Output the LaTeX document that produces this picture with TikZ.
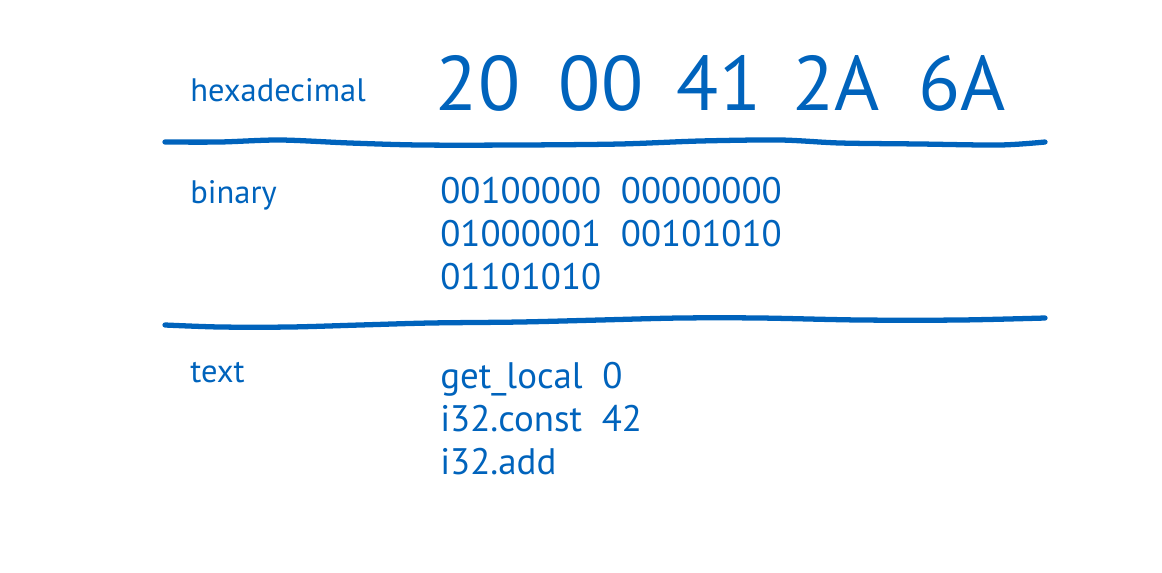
\documentclass[tikz,border=0pt]{standalone}
\usepackage{fontspec}
\setmainfont{PT Sans}
\usepackage{tikz}
\definecolor{inkblue}{RGB}{0,99,188}

\begin{document}
\begin{tikzpicture}[x=0.02cm,y=-0.02cm,
    rowlabel/.style={anchor=base west,inner sep=0pt,text=inkblue,font=\fontsize{18.5}{22}\selectfont},
    hexbyte/.style={anchor=base,inner sep=0pt,text=inkblue,font=\fontsize{44}{50}\selectfont},
    code/.style={anchor=base west,inner sep=0pt,text=inkblue,align=left,font=\fontsize{21}{24.4}\selectfont},
    rule/.style={draw=inkblue,line width=3pt,line cap=round}]
	\useasboundingbox (0,0) rectangle (1162,572);

	\node[rowlabel] (hexlabel) at (190, 101) {hexadecimal};
	\node[hexbyte] (b1) at (478, 110) {20};
	\node[hexbyte] (b2) at (601, 110) {00};
	\node[hexbyte] (b3) at (719, 110) {41};
	\node[hexbyte] (b4) at (836, 110) {2A};
	\node[hexbyte] (b5) at (962, 110) {6A};

	\node[rowlabel] (binlabel) at (190, 203) {binary};
	% base of a multi-line node is the last line
	\node[code] (bits) at (440, 289) {00100000\ \ 00000000\\01000001\ \ 00101010\\01101010};

	\node[rowlabel] (textlabel) at (190, 382) {text};
	\node[code] (wat) at (440, 474) {get\_local\ \ 0\\i32.const\ \ 42\\i32.add};

	\draw[rule] plot[smooth] coordinates {(165,142) (220,142) (280,140) (350,143) (420,145) (520,145) (620,144) (700,141) (780,140) (840,143) (920,144) (1000,145) (1045,142)};
	\draw[rule] plot[smooth] coordinates {(165,325) (220,327) (290,327) (360,325) (430,323) (520,322) (600,320) (680,318) (760,318) (860,320) (960,320) (1045,318)};
\end{tikzpicture}
\end{document}
